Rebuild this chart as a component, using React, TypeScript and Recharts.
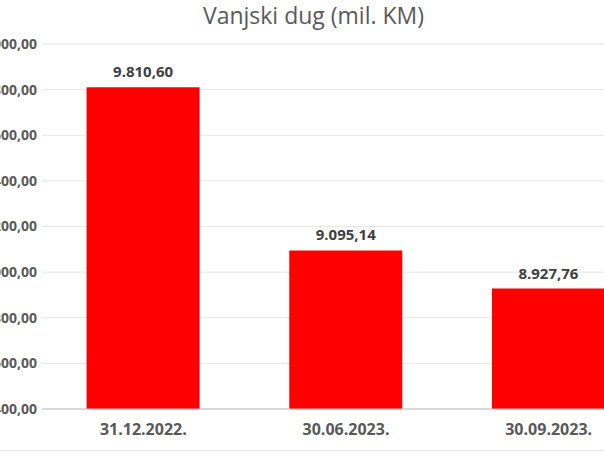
import React from 'react';
import { BarChart, Bar, XAxis, YAxis, CartesianGrid, LabelList } from 'recharts';

const dates = ['31.12.2022.', '30.06.2023.', '30.09.2023.'];
const debt = [9810.6, 9095.14, 8927.76];
const yTicks = [8400, 8600, 8800, 9000, 9200, 9400, 9600, 9800, 10000];

const data = dates.map((d, i) => ({ date: d, value: debt[i] }));

// 9810.6 -> "9.810,60"
const fmt = (v: number) => {
  const [int, dec] = v.toFixed(2).split('.');
  return `${int.replace(/\B(?=(\d{3})+(?!\d))/g, '.')},${dec}`;
};

const FONT = '"Open Sans", "Noto Sans", sans-serif';
const TEXT = '#595959';

export default function App() {
  return (
    <div
      style={{
        position: 'fixed',
        left: 0,
        top: 0,
        width: 604,
        height: 453,
        overflow: 'hidden',
        background: '#fff',
        fontFamily: FONT,
      }}
    >
      <div
        style={{
          position: 'absolute',
          top: 0,
          left: 0,
          width: 627,
          textAlign: 'center',
          fontSize: 23,
          lineHeight: '30px',
          color: TEXT,
        }}
      >
        Vanjski dug (mil. KM)
      </div>
      <div style={{ position: 'absolute', left: -40, top: 0 }}>
        <BarChart
          width={705}
          height={453}
          data={data}
          margin={{ top: 44, right: 15, left: 0, bottom: 0 }}
          barCategoryGap="22%"
        >
          <CartesianGrid stroke="#e6e6e6" vertical={false} />
          <XAxis
            dataKey="date"
            height={44}
            tickSize={0}
            tickMargin={15}
            axisLine={{ stroke: '#bfbfbf' }}
            tickLine={false}
            tick={{ fontSize: 16, fontWeight: 700, fill: TEXT, fontFamily: FONT }}
          />
          <YAxis
            width={82}
            domain={[8400, 10000]}
            ticks={yTicks}
            interval={0}
            tickFormatter={fmt}
            tickSize={0}
            tickMargin={5}
            axisLine={false}
            tickLine={false}
            tick={{ fontSize: 14, fontWeight: 700, fill: TEXT, fontFamily: FONT }}
          />
          <Bar dataKey="value" fill="#ff0000" isAnimationActive={false}>
            <LabelList
              dataKey="value"
              position="top"
              offset={10}
              formatter={(v: any) => fmt(Number(v))}
              style={{ fontSize: 15, fontWeight: 700, fill: '#404040', fontFamily: FONT }}
            />
          </Bar>
        </BarChart>
      </div>
      <div
        style={{
          position: 'absolute',
          left: 0,
          top: 450,
          width: 604,
          height: 1,
          background: '#e6e6e6',
        }}
      />
    </div>
  );
}
